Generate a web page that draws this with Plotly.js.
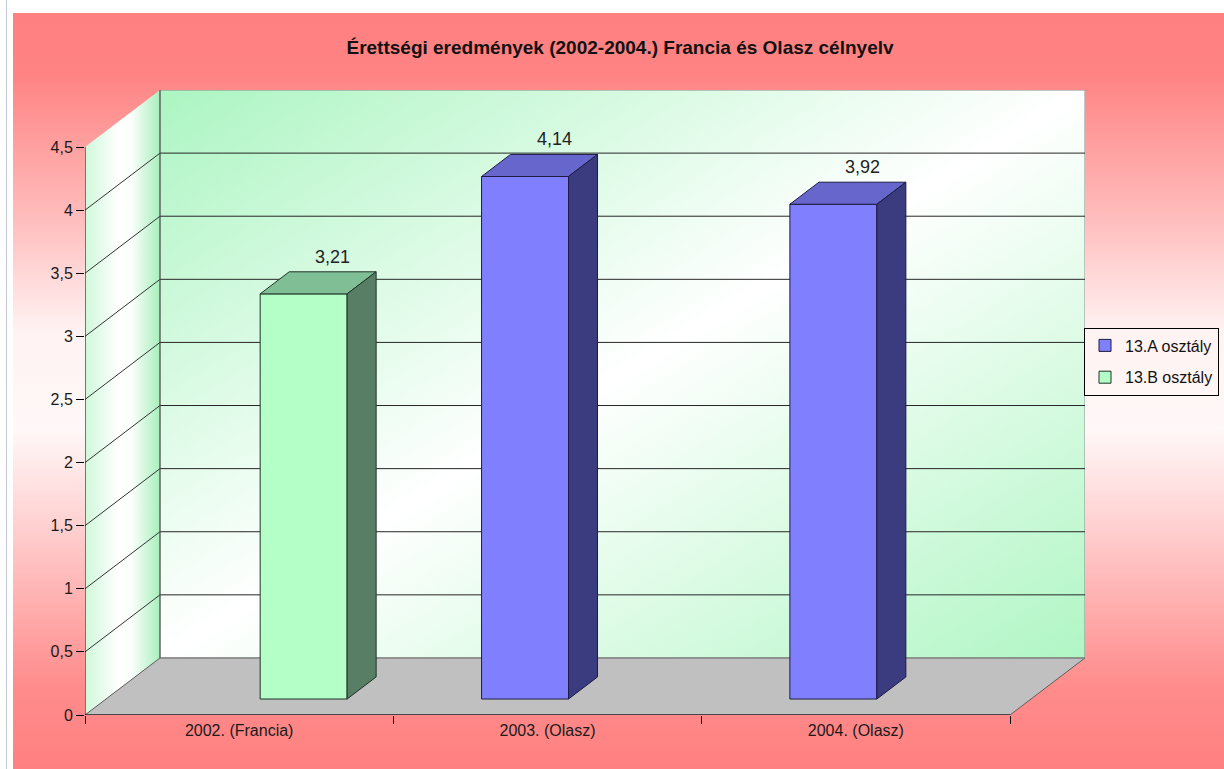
<!DOCTYPE html>
<html>
<head>
<meta charset="utf-8">
<script src="https://cdn.plot.ly/plotly-3.0.1.min.js"></script>
<style>
html,body{margin:0;padding:0;width:1224px;height:769px;overflow:hidden;background:#ffffff;}
#rule{position:absolute;left:6px;top:0;width:1px;height:769px;background:#c4c8d4;}
#frame{position:absolute;left:13px;top:13px;width:1211px;height:756px;
  background:linear-gradient(to bottom,#ff8080 0%,#ff8383 8%,#ffbcbc 27%,#fff2f2 42%,#fff8f8 55%,#ffc6c6 71%,#ff8c8c 89%,#ff8080 100%);}
#chart{position:absolute;left:0;top:0;width:1224px;height:769px;}
</style>
</head>
<body>
<div id="rule"></div>
<div id="frame"></div>
<div id="chart"></div>
<script>
// ---------- data ----------
const chartTitle = 'Érettségi eredmények (2002-2004.) Francia és Olasz célnyelv';
const categories = ['2002. (Francia)', '2003. (Olasz)', '2004. (Olasz)'];
const seriesNames = ['13.A osztály', '13.B osztály'];
const valuesA = [null, 4.14, 3.92];
const valuesB = [3.21, null, null];
const yTickVals = [0, 0.5, 1, 1.5, 2, 2.5, 3, 3.5, 4, 4.5];
const yTickText = ['0', '0,5', '1', '1,5', '2', '2,5', '3', '3,5', '4', '4,5'];

// ---------- style / oblique projection ----------
const FONT = 'Liberation Sans, Arial, sans-serif';
const DX = 0.2432;      // depth shift along x (axis units)
const DY = 0.452;       // depth shift along y (axis units)
const FRONT = 0.28;     // bar front depth fraction
const BACK = 0.667;     // bar back depth fraction
const BAR_W = 0.282;
const SLOT = [0.359, 0.641];
const styles = [
  {front: '#8080ff', top: '#6666cc', side: '#3b3b80', edge: '#1c1c44'},
  {front: '#b4ffc8', top: '#80be96', side: '#587f66', edge: '#1e3326'}
];
const series = [valuesA, valuesB];
const nCat = categories.length;
const yMax = yTickVals[yTickVals.length - 1];

const barTraces = [];
const faceTraces = [];
const annotations = [];
const ddx = (BACK - FRONT) * DX, ddy = (BACK - FRONT) * DY;

series.forEach((vals, s) => {
  const st = styles[s];
  const xs = categories.map((c, i) => i + SLOT[s] + FRONT * DX);
  barTraces.push({
    type: 'bar', name: seriesNames[s], x: xs, y: vals, base: FRONT * DY, width: BAR_W,
    marker: {color: st.front, line: {color: st.edge, width: 1}},
    legendgroup: 'g' + s, hoverinfo: 'skip'
  });
  vals.forEach((v, i) => {
    if (v == null) return;
    const x0 = xs[i] - BAR_W / 2, x1 = xs[i] + BAR_W / 2;
    const b = FRONT * DY, t = FRONT * DY + v;
    faceTraces.push({
      type: 'scatter', mode: 'lines', showlegend: false, hoverinfo: 'skip',
      x: [x0, x1, x1 + ddx, x0 + ddx, x0], y: [t, t, t + ddy, t + ddy, t],
      fill: 'toself', fillcolor: st.top, line: {color: st.edge, width: 1}
    });
    faceTraces.push({
      type: 'scatter', mode: 'lines', showlegend: false, hoverinfo: 'skip',
      x: [x1, x1 + ddx, x1 + ddx, x1, x1], y: [b, b + ddy, t + ddy, t, b],
      fill: 'toself', fillcolor: st.side, line: {color: st.edge, width: 1}
    });
    annotations.push({
      x: xs[i] + ddx, y: t + ddy, xref: 'x', yref: 'y', showarrow: false,
      text: String(v).replace('.', ','), yanchor: 'bottom', yshift: 3,
      font: {family: FONT, size: 18, color: '#222222'}
    });
  });
});

// ---------- walls, floor, gridlines ----------
function svgURI(inner) {
  return 'data:image/svg+xml;charset=utf-8,' + encodeURIComponent(
    '<svg xmlns="http://www.w3.org/2000/svg" width="100" height="100" viewBox="0 0 100 100" preserveAspectRatio="none">' + inner + '</svg>');
}
const backWall = svgURI(
  '<defs><linearGradient id="g" x1="0" y1="0" x2="1" y2="1">' +
  '<stop offset="0" stop-color="#acf5c2"/><stop offset="0.5" stop-color="#ffffff"/><stop offset="1" stop-color="#b0f6c4"/>' +
  '</linearGradient></defs><rect x="0" y="0" width="100" height="100" fill="url(#g)"/>');
const H = yMax + DY;
const sidePts = [[0, (H - yMax) / H * 100], [100, 0], [100, (H - DY) / H * 100], [0, 100]]
  .map(p => p[0].toFixed(2) + ',' + p[1].toFixed(2)).join(' ');
const sideWall = svgURI(
  '<defs><linearGradient id="s" x1="0" y1="0" x2="1" y2="0">' +
  '<stop offset="0" stop-color="#cff8da"/><stop offset="0.45" stop-color="#ffffff"/><stop offset="0.62" stop-color="#fbfffc"/><stop offset="1" stop-color="#a8efbc"/>' +
  '</linearGradient></defs><polygon points="' + sidePts + '" fill="url(#s)"/>');

const images = [
  {source: backWall, xref: 'x', yref: 'y', x: DX, y: yMax + DY, sizex: nCat, sizey: yMax,
   xanchor: 'left', yanchor: 'top', sizing: 'stretch', layer: 'below'},
  {source: sideWall, xref: 'x', yref: 'y', x: 0, y: yMax + DY, sizex: DX, sizey: yMax + DY,
   xanchor: 'left', yanchor: 'top', sizing: 'stretch', layer: 'below'}
];

const LAYER = 'between';
const shapes = [];
shapes.push({type: 'path', xref: 'x', yref: 'y', layer: LAYER,
  path: `M0,0 L${nCat},0 L${nCat + DX},${DY} L${DX},${DY} Z`,
  fillcolor: '#c0c0c0', line: {color: '#5e5e5e', width: 1}});
shapes.push({type: 'rect', xref: 'x', yref: 'y', layer: LAYER,
  x0: DX, x1: nCat + DX, y0: DY, y1: yMax + DY, line: {color: '#8c8c8c', width: 1}});
yTickVals.forEach(v => {
  if (v <= 0 || v >= yMax) return;
  shapes.push({type: 'line', xref: 'x', yref: 'y', layer: LAYER,
    x0: DX, x1: nCat + DX, y0: v + DY, y1: v + DY, line: {color: '#262626', width: 1}});
  shapes.push({type: 'line', xref: 'x', yref: 'y', layer: LAYER,
    x0: 0, x1: DX, y0: v, y1: v + DY, line: {color: '#333333', width: 1}});
});
shapes.push({type: 'line', xref: 'x', yref: 'y', layer: LAYER,
  x0: DX, x1: DX, y0: DY, y1: yMax + DY, line: {color: '#4a4a4a', width: 1}});
shapes.push({type: 'line', xref: 'x', yref: 'y', layer: LAYER,
  x0: 0, x1: 0, y0: 0, y1: yMax, line: {color: '#000000', width: 1}});
shapes.push({type: 'line', xref: 'x', yref: 'y', layer: LAYER,
  x0: 0, x1: nCat, y0: 0, y1: 0, line: {color: '#000000', width: 1}});

const layout = {
  width: 1224, height: 769, autosize: false,
  paper_bgcolor: 'rgba(0,0,0,0)', plot_bgcolor: 'rgba(0,0,0,0)',
  margin: {l: 85, r: 139, t: 90, b: 54, pad: 0, autoexpand: false},
  barmode: 'overlay',
  title: {
    text: chartTitle, xref: 'container', yref: 'container',
    x: 620 / 1224, xanchor: 'center', y: 1 - 47 / 769, yanchor: 'middle',
    font: {family: FONT, size: 19, color: '#111111', weight: 'bold'}
  },
  xaxis: {
    range: [0, nCat + DX], showgrid: false, zeroline: false, showline: false,
    tickmode: 'array', tickvals: categories.map((c, i) => i + 0.5), ticktext: categories,
    ticks: '', ticklabelstandoff: 4,
    tickfont: {family: FONT, size: 16, color: '#1a1a1a'},
    minor: {tickmode: 'array', tickvals: categories.map((c, i) => i).concat([nCat]),
            ticks: 'outside', ticklen: 8, tickwidth: 1, tickcolor: '#000000', showgrid: false},
    fixedrange: true, automargin: false
  },
  yaxis: {
    range: [0, yMax + DY], showgrid: false, zeroline: false, showline: false,
    tickmode: 'array', tickvals: yTickVals, ticktext: yTickText,
    ticks: 'outside', ticklen: 8, tickwidth: 1, tickcolor: '#000000',
    tickfont: {family: FONT, size: 16, color: '#1a1a1a'},
    fixedrange: true, automargin: false
  },
  legend: {
    x: 0.999, xanchor: 'left', y: 0.62, yanchor: 'top',
    traceorder: 'grouped', tracegroupgap: 8,
    bgcolor: 'rgba(255,255,255,0)', bordercolor: '#000000', borderwidth: 1,
    font: {family: FONT, size: 16, color: '#111111'}
  },
  showlegend: true,
  shapes: shapes, images: images, annotations: annotations
};

Plotly.newPlot('chart', barTraces.concat(faceTraces), layout, {staticPlot: true, displayModeBar: false});
</script>
</body>
</html>
